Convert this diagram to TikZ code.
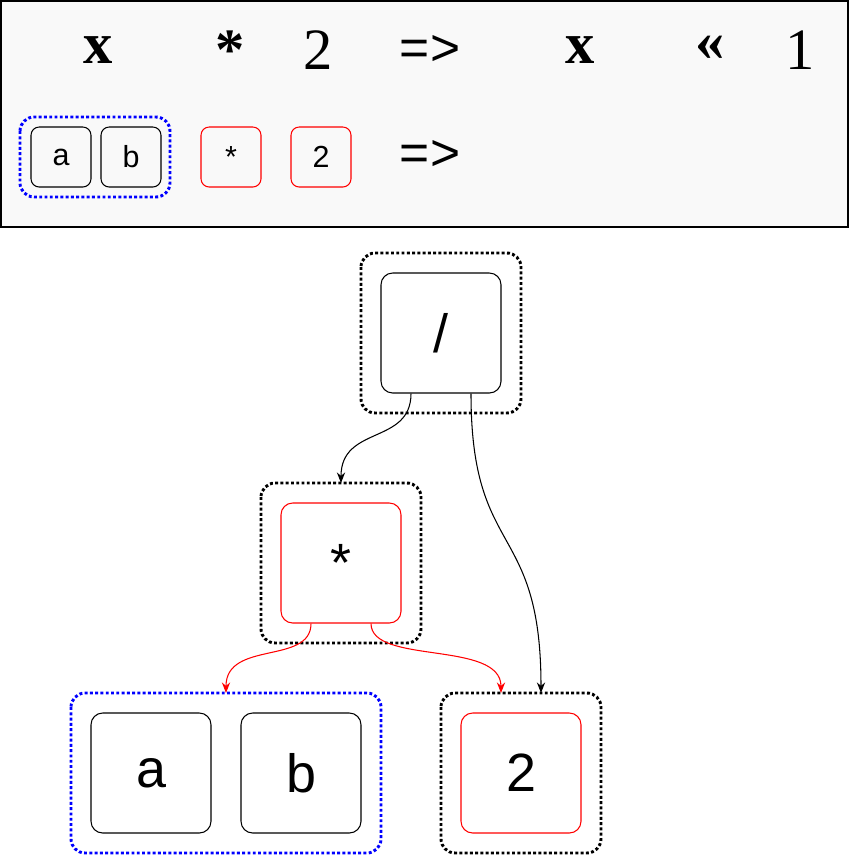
\documentclass[tikz,border=0pt]{standalone}
\usepackage{fontspec}
\setmainfont{Liberation Sans}
\newfontfamily\serifx{Liberation Serif}
\usetikzlibrary{arrows.meta,calc}
\definecolor{panel}{HTML}{F9F9F9}
\tikzset{
    tok/.style={draw, rounded corners=10pt, line width=0.9pt, minimum size=3.6cm, font=\fontsize{46}{46}\selectfont},
    smalltok/.style={draw, rounded corners=7pt, line width=0.9pt, minimum size=1.8cm, font=\fontsize{26}{26}\selectfont},
    group/.style={draw, dotted, line width=2.5pt, rounded corners=12pt},
    big/.style={font=\serifx\bfseries\fontsize{50}{50}\selectfont},
    link/.style={-{Stealth[length=9pt,width=7pt]}, line width=0.9pt},
}
\begin{document}
\begin{tikzpicture}[x=0.03cm,y=-0.03cm]
    \useasboundingbox (0,0) rectangle (862,856);

    % top panel
    \draw[fill=panel, line width=0.9pt] (1,1) rectangle (848,227);
    \node[big] (x1) at (98,50) {x};
    \node[big] (m1) at (230,50) {*};
    \node[big, font=\serifx\fontsize{50}{50}\selectfont] (two1) at (318,50) {2};
    \node[font=\fontsize{44}{44}\selectfont] (arr1) at (430,50) {=>};
    \node[big] (x2) at (580,50) {x};
    \node[big] (sh) at (710,48) {«};
    \node[big, font=\serifx\fontsize{50}{50}\selectfont] (one) at (800,50) {1};

    \draw[group, blue] (20,117) rectangle (170,197);
    \node[smalltok] (sa) at (61,157) {a};
    \node[smalltok] (sb) at (131,157) {b};
    \node[smalltok, red, text=black] (sm) at (231,157) {*};
    \node[smalltok, red, text=black] (s2) at (321,157) {2};
    \node[font=\fontsize{44}{44}\selectfont] (arr2) at (430,155) {=>};

    % tree
    \draw[group] (361,253) rectangle (521,413);
    \node[tok] (div) at (441,333) {/};
    \draw[group] (261,483) rectangle (421,643);
    \node[tok, red, text=black] (mul) at (341,563) {*};
    \draw[group, blue] (71,693) rectangle (381,853);
    \node[tok] (a) at (151,773) {a};
    \node[tok] (b) at (301,773) {b};
    \draw[group] (441,693) rectangle (601,853);
    \node[tok, red, text=black] (two) at (521,773) {2};

    \coordinate (mulin) at (341,483);
    \coordinate (twoin) at (541,693);
    \coordinate (abin) at (226,693);
    \coordinate (tworin) at (501,693);

    \draw[link] ($(div.south)+(-30,0)$) .. controls (411,445) and (341,425) .. (mulin);
    \draw[link] ($(div.south)+(30,0)$) .. controls (471,560) and (541,520) .. (twoin);
    \draw[link, red] ($(mul.south)+(-30,0)$) .. controls (311,665) and (226,640) .. (abin);
    \draw[link, red] ($(mul.south)+(30,0)$) .. controls (371,665) and (501,640) .. (tworin);
\end{tikzpicture}
\end{document}
